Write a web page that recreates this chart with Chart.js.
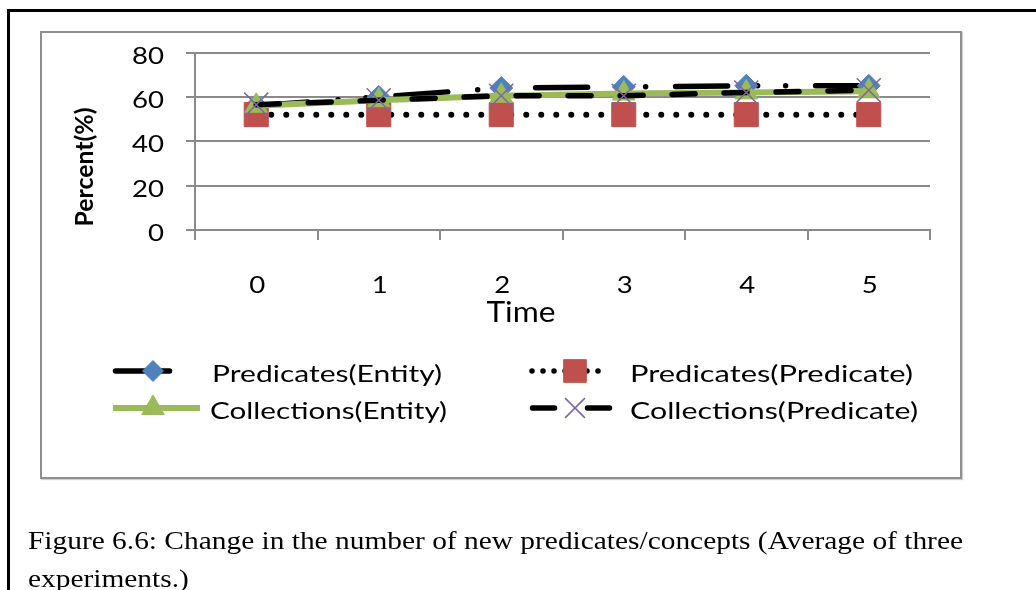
<!DOCTYPE html>
<html><head><meta charset="utf-8">
<script src="https://cdn.jsdelivr.net/npm/chart.js@4.4.1/dist/chart.umd.min.js"></script>
<style>
html,body{margin:0;padding:0;background:#fff;width:1036px;height:590px;overflow:hidden;}
#frame{position:absolute;left:7px;top:9px;width:1100px;height:700px;border-left:3px solid #000;border-top:3px solid #000;}
#box{position:absolute;left:40px;top:31px;width:922px;height:448px;box-sizing:border-box;border:2px solid #8f8f8f;box-shadow:1px 1px 1px #cfcfcf;}
#chart{position:absolute;left:0;top:0;}
#caption{position:absolute;left:28px;top:522px;font-family:"Liberation Serif","Times New Roman",serif;font-size:26px;line-height:38px;white-space:nowrap;transform-origin:0 0;color:#000;}
</style></head>
<body>
<div id="frame"></div>
<div id="box"></div>
<canvas id="chart" width="1036" height="590"></canvas>
<div id="caption"><span id="cap1">Figure 6.6: Change in the number of new predicates/concepts (Average of three</span><br>experiments.)</div>
<script>
const categories = ['0', '1', '2', '3', '4', '5'];
const yTickValues = [0, 20, 40, 60, 80];
const seriesNames = ['Predicates(Entity)', 'Predicates(Predicate)', 'Collections(Entity)', 'Collections(Predicate)'];
const predicatesEntity = [56, 60, 64, 64.5, 65, 65];
const predicatesPredicate = [52, 52, 52, 52, 52, 52];
const collectionsEntity = [56, 58.5, 60.5, 61.5, 62, 62.5];
const collectionsPredicate = [56.5, 58.5, 60.5, 60.5, 62, 63];
const xTitle = 'Time';
const yTitle = 'Percent(%)';

const BLUE = '#4f81bd', RED = '#c0504d', GREEN = '#9bbb59', PURPLE = '#8064a2', GRID = '#8a8a8a';
const FONT = 'Lato, "Open Sans", sans-serif';

// caption width fit
(function(){
  const cap = document.getElementById('caption');
  const w = document.getElementById('cap1').getBoundingClientRect().width;
  cap.style.transform = 'scaleX(' + (935 / w) + ')';
})();

function fitText(ctx, text, font, x, y, width, align, rotate) {
  ctx.save();
  ctx.font = font;
  const w = ctx.measureText(text).width;
  const sx = width ? width / w : 1;
  ctx.translate(x, y);
  if (rotate) ctx.rotate(rotate);
  ctx.scale(sx, 1);
  ctx.textAlign = align;
  ctx.textBaseline = 'alphabetic';
  ctx.fillStyle = '#000';
  ctx.fillText(text, 0, 0);
  ctx.restore();
}

function marker(ctx, style, x, y, r, fill, stroke, bw) {
  ctx.save();
  ctx.setLineDash([]);
  ctx.beginPath();
  if (style === 'rectRot') {
    ctx.moveTo(x - r, y); ctx.lineTo(x, y - r); ctx.lineTo(x + r, y); ctx.lineTo(x, y + r); ctx.closePath();
  } else if (style === 'rect') {
    const s = r * Math.SQRT1_2; ctx.rect(x - s, y - s, 2 * s, 2 * s);
  } else if (style === 'triangle') {
    for (let i = 0; i < 3; i++) {
      const a = i * 2 * Math.PI / 3;
      const px = x + Math.sin(a) * r, py = y - Math.cos(a) * r;
      if (i) ctx.lineTo(px, py); else ctx.moveTo(px, py);
    }
    ctx.closePath();
  } else if (style === 'crossRot') {
    const o = r * Math.SQRT1_2;
    ctx.moveTo(x - o, y - o); ctx.lineTo(x + o, y + o);
    ctx.moveTo(x + o, y - o); ctx.lineTo(x - o, y + o);
  }
  if (style !== 'crossRot') { ctx.fillStyle = fill; ctx.fill(); }
  ctx.strokeStyle = stroke; ctx.lineWidth = bw; ctx.stroke();
  ctx.restore();
}

function seg(ctx, x1, x2, y, color, width, dash, cap) {
  ctx.save();
  ctx.beginPath();
  ctx.setLineDash(dash || []);
  ctx.lineCap = cap || 'butt';
  ctx.strokeStyle = color; ctx.lineWidth = width;
  ctx.moveTo(x1, y); ctx.lineTo(x2, y); ctx.stroke();
  ctx.restore();
}

const decorPlugin = {
  id: 'decor',
  afterDraw(chart) {
    const ctx = chart.ctx;
    const xs = chart.scales.x, ys = chart.scales.y;
    ctx.save();
    ctx.font = '23px ' + FONT;
    const tsx = 32 / ctx.measureText('80').width;
    ctx.restore();
    yTickValues.forEach(v => {
      const t = String(v);
      ctx.save(); ctx.font = '23px ' + FONT;
      const w = ctx.measureText(t).width * tsx;
      ctx.restore();
      fitText(ctx, t, '23px ' + FONT, 164, ys.getPixelForValue(v) + 11, w, 'right');
    });
    categories.forEach((c, i) => {
      ctx.save(); ctx.font = '23px ' + FONT;
      const w = ctx.measureText(c).width * tsx;
      ctx.restore();
      fitText(ctx, c, '23px ' + FONT, xs.getPixelForValue(i) + 1, 293, w, 'center');
    });
    fitText(ctx, xTitle, '28px ' + FONT, 521, 322, 69, 'center');
    fitText(ctx, yTitle, 'bold 25px ' + FONT, 93, 167, 119, 'center', -Math.PI / 2);

    seg(ctx, 115.5, 169.5, 371, '#000', 5.5, [], 'round');
    marker(ctx, 'rectRot', 153, 371, 10.5, BLUE, BLUE, 1);
    fitText(ctx, seriesNames[0], '23px ' + FONT, 212, 382, 230, 'left');
    seg(ctx, 532, 609, 371, '#000', 5.5, [0, 11], 'round');
    marker(ctx, 'rect', 575, 371, 16, RED, RED, 1);
    fitText(ctx, seriesNames[1], '23px ' + FONT, 630, 382, 283, 'left');
    seg(ctx, 113, 200, 408, GREEN, 6, [], 'butt');
    marker(ctx, 'triangle', 153, 408, 13, GREEN, GREEN, 1);
    fitText(ctx, seriesNames[2], '23px ' + FONT, 210, 419, 237, 'left');
    seg(ctx, 532.5, 609.5, 408, '#000', 5.5, [22, 33], 'round');
    marker(ctx, 'crossRot', 575, 408, 14, PURPLE, PURPLE, 1.5);
    fitText(ctx, seriesNames[3], '23px ' + FONT, 630, 419, 288, 'left');
  }
};

new Chart(document.getElementById('chart'), {
  type: 'line',
  data: {
    labels: categories,
    datasets: [
      {
        label: seriesNames[0], data: predicatesEntity, order: 4,
        borderColor: '#000', borderWidth: 5.5, borderDash: [52, 30, 0, 28, 0, 30], borderCapStyle: 'round',
        pointStyle: 'rectRot', pointRadius: 11.5, pointBackgroundColor: BLUE, pointBorderColor: BLUE, pointBorderWidth: 1,
        tension: 0, fill: false
      },
      {
        label: seriesNames[1], data: predicatesPredicate, order: 3,
        borderColor: '#000', borderWidth: 6, borderDash: [0, 15], borderCapStyle: 'round',
        pointStyle: 'rect', pointRadius: 17, pointBackgroundColor: RED, pointBorderColor: RED, pointBorderWidth: 1,
        tension: 0, fill: false
      },
      {
        label: seriesNames[2], data: collectionsEntity, order: 2,
        borderColor: GREEN, borderWidth: 6,
        pointStyle: 'triangle', pointRadius: 13, pointBackgroundColor: GREEN, pointBorderColor: GREEN, pointBorderWidth: 1,
        tension: 0, fill: false
      },
      {
        label: seriesNames[3], data: collectionsPredicate, order: 1,
        borderColor: '#000', borderWidth: 5.5, borderDash: [23, 29], borderCapStyle: 'round',
        pointStyle: 'crossRot', pointRadius: 17, pointBackgroundColor: PURPLE, pointBorderColor: PURPLE, pointBorderWidth: 1.5,
        tension: 0, fill: false
      }
    ]
  },
  options: {
    responsive: false,
    animation: false,
    events: [],
    layout: { padding: { left: 0, top: 52.5, right: 106, bottom: 0 } },
    plugins: { legend: { display: false }, tooltip: { enabled: false }, title: { display: false } },
    scales: {
      x: {
        type: 'category', offset: true,
        grid: { offset: true, drawOnChartArea: false, drawTicks: true, tickLength: 10, color: GRID, lineWidth: 2 },
        border: { color: GRID, width: 2 },
        ticks: { display: false },
        afterFit: s => { s.height = 360; }
      },
      y: {
        min: 0, max: 80,
        ticks: { stepSize: 20, display: false },
        grid: { color: GRID, lineWidth: 2, tickLength: 9 },
        border: { color: GRID, width: 2 },
        afterFit: s => { s.width = 195; }
      }
    }
  },
  plugins: [decorPlugin]
});
</script>
</body></html>
